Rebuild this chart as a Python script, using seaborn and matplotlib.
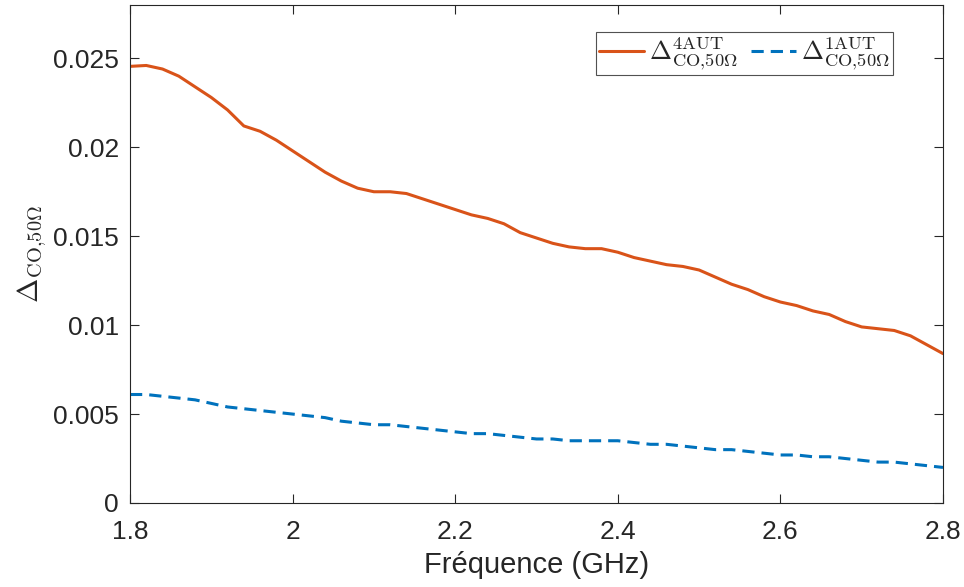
import numpy as np
import pandas as pd
import matplotlib
matplotlib.use("Agg")
import matplotlib.pyplot as plt
import seaborn as sns

freq = [1.80, 1.82, 1.84, 1.86, 1.88, 1.90, 1.92, 1.94, 1.96, 1.98,
        2.00, 2.02, 2.04, 2.06, 2.08, 2.10, 2.12, 2.14, 2.16, 2.18,
        2.20, 2.22, 2.24, 2.26, 2.28, 2.30, 2.32, 2.34, 2.36, 2.38,
        2.40, 2.42, 2.44, 2.46, 2.48, 2.50, 2.52, 2.54, 2.56, 2.58,
        2.60, 2.62, 2.64, 2.66, 2.68, 2.70, 2.72, 2.74, 2.76, 2.78, 2.80]

delta_4aut = [0.02455, 0.0246, 0.0244, 0.0240, 0.0234, 0.0228, 0.0221, 0.0212, 0.0209, 0.0204,
              0.0198, 0.0192, 0.0186, 0.0181, 0.0177, 0.0175, 0.0175, 0.0174, 0.0171, 0.0168,
              0.0165, 0.0162, 0.0160, 0.0157, 0.0152, 0.0149, 0.0146, 0.0144, 0.0143, 0.0143,
              0.0141, 0.0138, 0.0136, 0.0134, 0.0133, 0.0131, 0.0127, 0.0123, 0.0120, 0.0116,
              0.0113, 0.0111, 0.0108, 0.0106, 0.0102, 0.0099, 0.0098, 0.0097, 0.0094, 0.0089, 0.0084]

delta_1aut = [0.0061, 0.0061, 0.0060, 0.0059, 0.0058, 0.0056, 0.0054, 0.0053, 0.0052, 0.0051,
              0.0050, 0.0049, 0.0048, 0.0046, 0.0045, 0.0044, 0.0044, 0.0043, 0.0042, 0.0041,
              0.0040, 0.0039, 0.0039, 0.0038, 0.0037, 0.0036, 0.0036, 0.0035, 0.0035, 0.0035,
              0.0035, 0.0034, 0.0033, 0.0033, 0.0032, 0.0031, 0.0030, 0.0030, 0.0029, 0.0028,
              0.0027, 0.0027, 0.0026, 0.0026, 0.0025, 0.0024, 0.0023, 0.0023, 0.0022, 0.0021, 0.0020]

label_4 = r"$\Delta^{\mathrm{4AUT}}_{\mathrm{CO{,}50\Omega}}$"
label_1 = r"$\Delta^{\mathrm{1AUT}}_{\mathrm{CO{,}50\Omega}}$"

xticks = [1.8, 2.0, 2.2, 2.4, 2.6, 2.8]
xticklabels = ["1.8", "2", "2.2", "2.4", "2.6", "2.8"]
yticks = [0, 0.005, 0.01, 0.015, 0.02, 0.025]
yticklabels = ["0", "0.005", "0.01", "0.015", "0.02", "0.025"]

sns.set_theme(style="white")
plt.rcParams['font.family'] = ['Liberation Sans', 'DejaVu Sans']
plt.rcParams['mathtext.fontset'] = 'cm'

df = pd.DataFrame({
    "freq": freq * 2,
    "val": delta_4aut + delta_1aut,
    "series": [label_4] * len(freq) + [label_1] * len(freq),
})

fig = plt.figure(figsize=(9.64, 5.87), dpi=100)
ax = fig.add_axes([130 / 964, 84 / 587, 813 / 964, 498 / 587])

sns.lineplot(data=df, x="freq", y="val", hue="series", style="series",
             palette=["#D95319", "#0072BD"], dashes=[(None, None), (4, 2.3)],
             linewidth=2.2, ax=ax, legend=True)

ax.set_xlim(1.8, 2.8)
ax.set_ylim(0, 0.028)
ax.set_xticks(xticks)
ax.set_xticklabels(xticklabels)
ax.set_yticks(yticks)
ax.set_yticklabels(yticklabels)
ax.tick_params(direction="in", length=6.5, width=0.8, labelsize=19, colors="#262626",
               top=True, right=True, bottom=True, left=True)
ax.tick_params(axis="x", pad=12)
ax.tick_params(axis="y", pad=8)
for s in ax.spines.values():
    s.set_color("#262626")
    s.set_linewidth(0.8)
ax.set_xlabel("Fréquence (GHz)", fontsize=21, color="#262626", labelpad=5)
ax.set_ylabel(r"$\Delta_{\mathrm{CO{,}50\Omega}}$", fontsize=21, color="#262626", labelpad=3)

leg = ax.legend(loc="upper right", ncol=2, fontsize=19, frameon=True, fancybox=False,
                edgecolor="#262626", handlelength=1.7, columnspacing=0.5, handletextpad=0.2,
                borderpad=0.1, borderaxespad=0, bbox_to_anchor=(0.9385, 0.9458))
leg.get_frame().set_linewidth(0.8)

fig.savefig("out.png", dpi=100)
